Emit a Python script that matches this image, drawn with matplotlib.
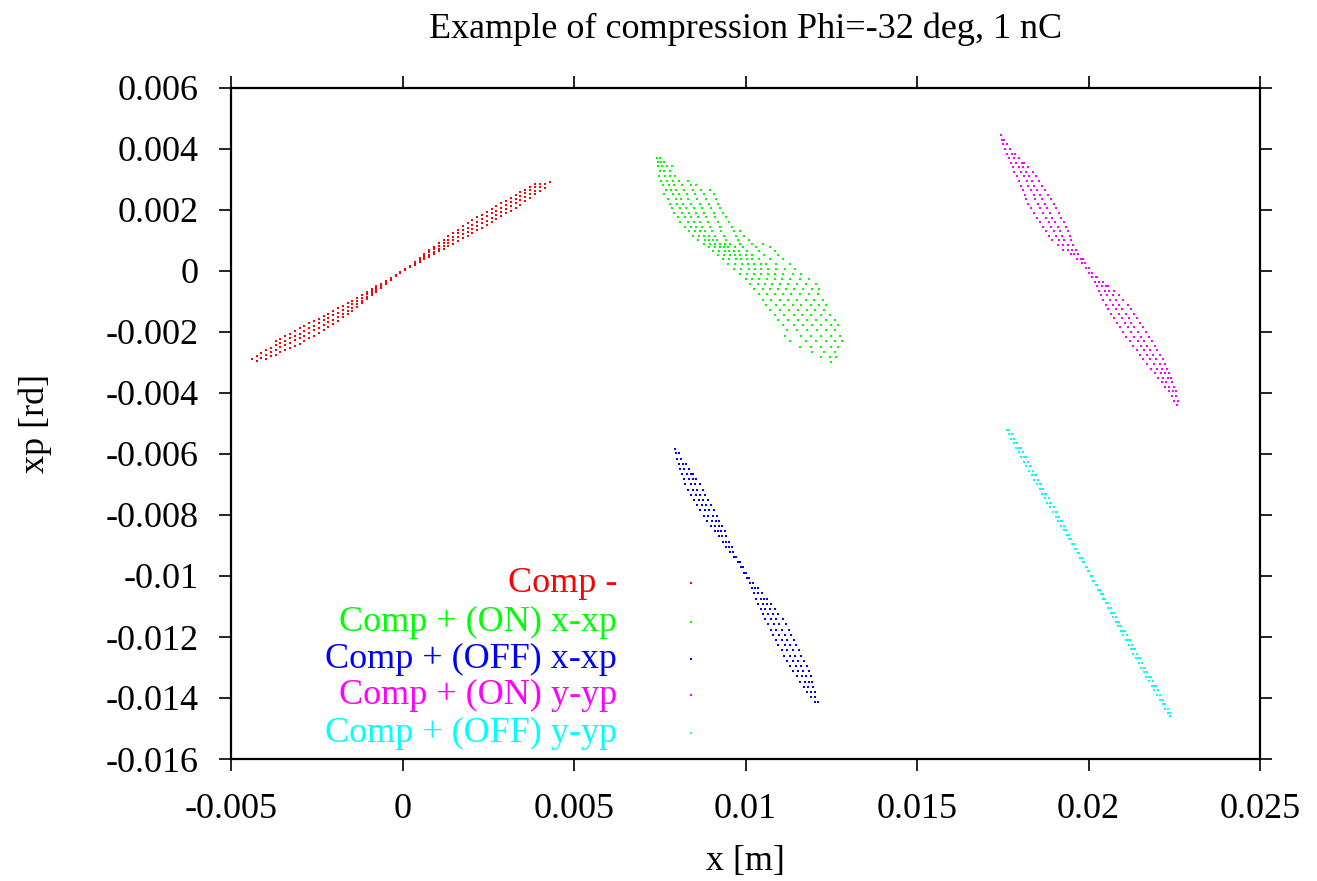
import numpy as np
import matplotlib
matplotlib.use("Agg")
import matplotlib.pyplot as plt

plt.rcParams['font.family'] = ['Liberation Serif', 'DejaVu Serif']

# particle clouds, x in mm, xp in mrad
# red: columns of (x, [xp values])
RED_COLS = [
    (-4.38, [-2.88]), (-4.25, [-2.95, -2.78]), (-4.12, [-2.84, -2.7]),
    (-3.98, [-2.9, -2.76, -2.6]), (-3.84, [-2.8, -2.65, -2.52]),
    (-3.7, [-2.74, -2.58, -2.44, -2.3]), (-3.56, [-2.66, -2.5, -2.36, -2.22]),
    (-3.42, [-2.6, -2.42, -2.28, -2.12]), (-3.28, [-2.52, -2.36, -2.2, -2.05]),
    (-3.14, [-2.45, -2.27, -2.12, -1.98]), (-3.0, [-2.38, -2.2, -2.05, -1.88]),
    (-2.86, [-2.3, -2.12, -1.97, -1.8]), (-2.72, [-2.2, -2.04, -1.88, -1.72]),
    (-2.58, [-2.12, -1.95, -1.8, -1.64]), (-2.44, [-2.02, -1.86, -1.72, -1.56]),
    (-2.3, [-1.93, -1.77, -1.62, -1.48]), (-2.16, [-1.84, -1.68, -1.54, -1.4]),
    (-2.02, [-1.74, -1.6, -1.45, -1.3]), (-1.88, [-1.63, -1.5, -1.37, -1.22]),
    (-1.74, [-1.52, -1.4, -1.28, -1.14]), (-1.6, [-1.42, -1.3, -1.18, -1.06]),
    (-1.46, [-1.3, -1.2, -1.08, -0.98]), (-1.32, [-1.18, -1.08, -0.98, -0.9]),
    (-1.18, [-1.06, -0.97, -0.88, -0.8]), (-1.04, [-0.93, -0.85, -0.77, -0.7]),
    (-0.9, [-0.8, -0.73, -0.66, -0.6]), (-0.76, [-0.68, -0.61, -0.55, -0.5]),
    (-0.62, [-0.55, -0.49, -0.44]), (-0.48, [-0.43, -0.38, -0.33]),
    (-0.34, [-0.3, -0.26, -0.22]), (-0.2, [-0.17, -0.14]),
    (-0.06, [-0.06, -0.03]), (0.08, [0.03, 0.06]), (0.22, [0.12, 0.16]),
    (0.36, [0.2, 0.25, 0.3]), (0.5, [0.3, 0.35, 0.41]),
    (0.64, [0.39, 0.45, 0.51, 0.57]), (0.78, [0.47, 0.54, 0.61, 0.68]),
    (0.92, [0.55, 0.63, 0.71, 0.8]), (1.06, [0.64, 0.73, 0.82, 0.92]),
    (1.2, [0.72, 0.82, 0.92, 1.03]), (1.34, [0.81, 0.92, 1.03, 1.14]),
    (1.48, [0.9, 1.02, 1.13, 1.25]), (1.62, [0.99, 1.11, 1.23, 1.36]),
    (1.76, [1.07, 1.2, 1.33, 1.47]), (1.9, [1.15, 1.29, 1.42, 1.57]),
    (2.04, [1.24, 1.38, 1.52, 1.67]), (2.18, [1.33, 1.47, 1.62, 1.76]),
    (2.32, [1.42, 1.56, 1.71, 1.85]), (2.46, [1.5, 1.65, 1.8, 1.95]),
    (2.6, [1.6, 1.74, 1.89, 2.04]), (2.74, [1.7, 1.84, 1.98, 2.13]),
    (2.88, [1.79, 1.94, 2.08, 2.22]), (3.02, [1.89, 2.03, 2.17, 2.31]),
    (3.16, [1.98, 2.12, 2.26, 2.4]), (3.3, [2.08, 2.22, 2.36, 2.5]),
    (3.44, [2.18, 2.32, 2.46, 2.58]), (3.58, [2.28, 2.42, 2.55, 2.66]),
    (3.72, [2.4, 2.52, 2.64, 2.75]), (3.86, [2.52, 2.63, 2.74, 2.84]),
    (4.0, [2.62, 2.74, 2.86]), (4.14, [2.72, 2.85]), (4.3, [2.92]),
]

# the others: rows of (xp, [x values])
GREEN_ROWS = [
    (3.72, [7.42, 7.51]), (3.58, [7.46, 7.55, 7.63]),
    (3.43, [7.44, 7.58, 7.72, 7.86]), (3.27, [7.5, 7.62, 7.81]),
    (3.12, [7.47, 7.66, 7.79, 7.95]), (2.96, [7.55, 7.71, 7.88, 8.06, 8.33]),
    (2.81, [7.6, 7.77, 7.93, 8.14, 8.41, 8.55]),
    (2.66, [7.68, 7.84, 7.97, 8.22, 8.47, 8.71, 8.96]),
    (2.52, [7.63, 7.9, 8.05, 8.28, 8.53, 8.8, 9.07]),
    (2.37, [7.74, 7.96, 8.12, 8.31, 8.6, 8.86, 9.15]),
    (2.21, [7.8, 8.01, 8.19, 8.42, 8.66, 8.93, 9.2]),
    (2.05, [7.87, 8.08, 8.26, 8.5, 8.72, 9.0, 9.27]),
    (1.9, [7.93, 8.15, 8.34, 8.55, 8.79, 9.08, 9.33]),
    (1.76, [8.02, 8.23, 8.4, 8.61, 8.85, 9.12, 9.44]),
    (1.6, [8.1, 8.31, 8.49, 8.68, 8.9, 9.19, 9.52]),
    (1.45, [8.24, 8.4, 8.57, 8.74, 8.97, 9.25, 9.6]),
    (1.3, [8.35, 8.52, 8.66, 8.83, 9.03, 9.3, 9.66, 9.85]),
    (1.15, [8.47, 8.63, 8.79, 8.93, 9.1, 9.38, 9.71, 9.95]),
    (1.02, [8.62, 8.81, 8.95, 9.05, 9.16, 9.44, 9.78, 10.1]),
    (0.9, [8.78, 8.96, 9.12, 9.25, 9.4, 9.55, 9.85, 10.2, 10.5]),
    (0.78, [8.93, 9.1, 9.27, 9.38, 9.5, 9.68, 9.94, 10.3, 10.7]),
    (0.65, [9.05, 9.24, 9.4, 9.52, 9.66, 9.82, 10.05, 10.4, 10.85]),
    (0.52, [9.2, 9.37, 9.55, 9.7, 9.85, 10.0, 10.2, 10.55, 10.95]),
    (0.38, [9.35, 9.52, 9.71, 9.88, 10.03, 10.2, 10.38, 10.7, 11.08]),
    (0.22, [9.48, 9.7, 9.9, 10.06, 10.25, 10.44, 10.6, 10.9, 11.3]),
    (0.06, [9.66, 9.88, 10.1, 10.27, 10.46, 10.66, 10.88, 11.15, 11.45]),
    (-0.1, [9.85, 10.04, 10.25, 10.45, 10.66, 10.86, 11.1, 11.38, 11.62]),
    (-0.27, [10.0, 10.2, 10.4, 10.62, 10.85, 11.05, 11.3, 11.58, 11.85]),
    (-0.44, [10.12, 10.35, 10.57, 10.78, 11.0, 11.24, 11.5, 11.77, 12.05]),
    (-0.6, [10.25, 10.5, 10.72, 10.95, 11.18, 11.42, 11.68, 11.95, 12.15]),
    (-0.77, [10.38, 10.62, 10.86, 11.1, 11.33, 11.58, 11.84, 12.1]),
    (-0.94, [10.5, 10.75, 11.0, 11.24, 11.5, 11.75, 12.0, 12.25]),
    (-1.1, [10.6, 10.88, 11.12, 11.38, 11.63, 11.9, 12.15, 12.35]),
    (-1.27, [10.72, 11.0, 11.26, 11.52, 11.78, 12.04, 12.3]),
    (-1.44, [10.85, 11.12, 11.4, 11.66, 11.92, 12.2, 12.45]),
    (-1.6, [10.95, 11.25, 11.52, 11.8, 12.06, 12.34, 12.6]),
    (-1.78, [11.1, 11.4, 11.67, 11.95, 12.2, 12.48, 12.7]),
    (-1.95, [11.2, 11.5, 11.8, 12.08, 12.36, 12.62]),
    (-2.12, [11.15, 11.62, 11.92, 12.2, 12.5, 12.75]),
    (-2.3, [11.3, 11.75, 12.05, 12.34, 12.62, 12.8]),
    (-2.48, [11.6, 11.9, 12.2, 12.5, 12.7]),
    (-2.65, [11.95, 12.3, 12.6]), (-2.82, [12.2, 12.45, 12.65]),
    (-3.0, [12.48]),
]

BLUE_ROWS = [
    (-5.82, [7.94]), (-5.98, [7.96, 8.06]), (-6.15, [8.0, 8.13]),
    (-6.32, [8.05, 8.18, 8.27]), (-6.49, [8.1, 8.22, 8.36]),
    (-6.66, [8.14, 8.28, 8.42, 8.48]), (-6.83, [8.2, 8.35, 8.47, 8.57]),
    (-7.0, [8.25, 8.4, 8.53, 8.66]), (-7.17, [8.32, 8.47, 8.6, 8.75]),
    (-7.34, [8.4, 8.55, 8.68, 8.83]), (-7.51, [8.49, 8.64, 8.77, 8.92]),
    (-7.68, [8.58, 8.72, 8.86, 9.0]), (-7.85, [8.68, 8.82, 8.95, 9.08]),
    (-8.02, [8.78, 8.92, 9.04, 9.16]), (-8.19, [8.88, 9.01, 9.13, 9.24]),
    (-8.36, [8.99, 9.1, 9.22, 9.32]), (-8.53, [9.1, 9.2, 9.3, 9.4]),
    (-8.7, [9.22, 9.31, 9.42]), (-8.87, [9.33, 9.42, 9.52]),
    (-9.04, [9.44, 9.53, 9.6]), (-9.21, [9.55, 9.64]),
    (-9.38, [9.66, 9.73]), (-9.55, [9.77, 9.83]), (-9.72, [9.87, 9.92]),
    (-9.89, [9.96, 10.0]), (-10.06, [10.04, 10.1]),
    (-10.23, [10.12, 10.21]), (-10.4, [10.18, 10.28, 10.35]),
    (-10.57, [10.25, 10.36, 10.48]), (-10.74, [10.31, 10.44, 10.55, 10.62]),
    (-10.91, [10.37, 10.5, 10.63, 10.74]), (-11.08, [10.44, 10.58, 10.71, 10.86]),
    (-11.25, [10.5, 10.66, 10.8, 10.96]), (-11.42, [10.58, 10.74, 10.9, 11.08]),
    (-11.59, [10.65, 10.82, 10.98, 11.18]), (-11.76, [10.73, 10.9, 11.06, 11.26]),
    (-11.93, [10.8, 10.98, 11.14, 11.34]), (-12.1, [10.88, 11.06, 11.22, 11.4]),
    (-12.27, [10.96, 11.14, 11.3, 11.48]), (-12.44, [11.05, 11.22, 11.38, 11.55]),
    (-12.61, [11.13, 11.3, 11.45, 11.62]), (-12.78, [11.22, 11.38, 11.53, 11.7]),
    (-12.95, [11.3, 11.46, 11.61, 11.78]), (-13.12, [11.38, 11.54, 11.68, 11.84]),
    (-13.29, [11.5, 11.64, 11.76, 11.9]), (-13.46, [11.6, 11.73, 11.85, 11.95]),
    (-13.63, [11.7, 11.82, 11.96]), (-13.8, [11.8, 11.92, 12.03]),
    (-13.97, [11.9, 12.04]), (-14.14, [12.02, 12.1]),
]

MAGENTA_ROWS = [
    (4.45, [17.45]), (4.3, [17.47, 17.55]), (4.15, [17.5, 17.62]),
    (4.0, [17.56, 17.71]), (3.85, [17.62, 17.76, 17.86]),
    (3.7, [17.68, 17.84, 17.98]), (3.55, [17.74, 17.9, 18.05, 18.12]),
    (3.4, [17.79, 17.96, 18.1, 18.25]), (3.25, [17.84, 18.03, 18.17, 18.37]),
    (3.1, [17.92, 18.12, 18.27, 18.46]), (2.95, [17.97, 18.2, 18.35, 18.55]),
    (2.8, [18.04, 18.25, 18.42, 18.65]), (2.65, [18.08, 18.33, 18.5, 18.74]),
    (2.5, [18.14, 18.4, 18.58, 18.82]), (2.35, [18.19, 18.45, 18.64, 18.92]),
    (2.2, [18.25, 18.52, 18.72, 18.98]), (2.05, [18.33, 18.6, 18.8, 19.06]),
    (1.9, [18.42, 18.68, 18.87, 19.15]), (1.75, [18.5, 18.76, 18.95, 19.2]),
    (1.6, [18.58, 18.84, 19.02, 19.28]), (1.45, [18.67, 18.92, 19.1, 19.35]),
    (1.3, [18.75, 18.99, 19.18, 19.4]), (1.15, [18.84, 19.06, 19.24, 19.46]),
    (1.0, [18.95, 19.15, 19.3, 19.5]), (0.85, [19.1, 19.27, 19.4, 19.56]),
    (0.7, [19.27, 19.4, 19.52, 19.64]), (0.55, [19.48, 19.58, 19.7]),
    (0.4, [19.67, 19.78, 19.84]), (0.25, [19.8, 19.9]), (0.1, [19.93, 20.01]),
    (-0.05, [20.02, 20.11]), (-0.2, [20.1, 20.22, 20.26]),
    (-0.35, [20.18, 20.3, 20.42]), (-0.5, [20.24, 20.38, 20.5, 20.57]),
    (-0.65, [20.3, 20.47, 20.6, 20.74]), (-0.8, [20.36, 20.55, 20.7, 20.9]),
    (-0.95, [20.43, 20.64, 20.8, 21.02]), (-1.1, [20.5, 20.72, 20.9, 21.14]),
    (-1.25, [20.57, 20.8, 20.98, 21.24]), (-1.4, [20.66, 20.9, 21.08, 21.33]),
    (-1.55, [20.75, 20.98, 21.17, 21.42]), (-1.7, [20.83, 21.07, 21.25, 21.5]),
    (-1.85, [20.92, 21.15, 21.33, 21.6]), (-2.0, [21.01, 21.24, 21.44, 21.69]),
    (-2.15, [21.1, 21.34, 21.53, 21.77]), (-2.3, [21.2, 21.43, 21.62, 21.85]),
    (-2.45, [21.3, 21.52, 21.7, 21.93]), (-2.6, [21.4, 21.62, 21.8, 22.0]),
    (-2.75, [21.5, 21.72, 21.88, 22.08]), (-2.9, [21.6, 21.8, 21.98, 22.17]),
    (-3.05, [21.7, 21.9, 22.07, 22.24]), (-3.2, [21.82, 22.0, 22.15, 22.3]),
    (-3.35, [21.93, 22.1, 22.22, 22.35]), (-3.5, [22.02, 22.18, 22.32, 22.4]),
    (-3.65, [22.14, 22.27, 22.44]), (-3.8, [22.23, 22.36, 22.5]),
    (-3.95, [22.34, 22.45, 22.55]), (-4.1, [22.42, 22.56]),
    (-4.25, [22.5, 22.6]), (-4.38, [22.58]),
]

CYAN_ROWS = [
    (-5.2, [17.63, 17.68]), (-5.35, [17.69, 17.76]), (-5.5, [17.75, 17.84]),
    (-5.65, [17.83, 17.92]), (-5.8, [17.88, 17.97, 18.02]),
    (-5.95, [17.97, 18.08]), (-6.1, [18.04, 18.13, 18.17]),
    (-6.25, [18.12, 18.23]), (-6.4, [18.19, 18.28, 18.32]),
    (-6.55, [18.27, 18.38]), (-6.7, [18.34, 18.43, 18.47]),
    (-6.85, [18.42, 18.53]), (-7.0, [18.5, 18.58, 18.62]),
    (-7.15, [18.58, 18.68]), (-7.3, [18.65, 18.73, 18.77]),
    (-7.45, [18.73, 18.84]), (-7.6, [18.8, 18.88, 18.92]),
    (-7.75, [18.89, 18.98]), (-7.9, [18.97, 19.04, 19.07]),
    (-8.05, [19.04, 19.13]), (-8.2, [19.12, 19.19, 19.22]),
    (-8.35, [19.2, 19.28]), (-8.5, [19.28, 19.35]), (-8.65, [19.36, 19.43]),
    (-8.8, [19.44, 19.5]), (-8.95, [19.52, 19.58]), (-9.1, [19.6, 19.65]),
    (-9.25, [19.68, 19.72]), (-9.4, [19.76, 19.8]), (-9.55, [19.83, 19.87]),
    (-9.7, [19.92, 19.95]), (-9.85, [19.99, 20.02]), (-10.0, [20.06, 20.1]),
    (-10.15, [20.13, 20.17]), (-10.3, [20.21, 20.25]),
    (-10.45, [20.28, 20.33]), (-10.6, [20.35, 20.41]),
    (-10.75, [20.43, 20.49]), (-10.9, [20.5, 20.57]),
    (-11.05, [20.57, 20.65]), (-11.2, [20.65, 20.7, 20.74]),
    (-11.35, [20.72, 20.8]), (-11.5, [20.8, 20.86, 20.9]),
    (-11.65, [20.86, 20.95]), (-11.8, [20.94, 21.0, 21.05]),
    (-11.95, [21.02, 21.12]), (-12.1, [21.09, 21.16, 21.2]),
    (-12.25, [21.17, 21.27]), (-12.4, [21.24, 21.31, 21.35]),
    (-12.55, [21.31, 21.42]), (-12.7, [21.39, 21.47, 21.51]),
    (-12.85, [21.46, 21.57]), (-13.0, [21.54, 21.62, 21.66]),
    (-13.15, [21.61, 21.72]), (-13.3, [21.69, 21.77, 21.81]),
    (-13.45, [21.77, 21.87]), (-13.6, [21.84, 21.92, 21.96]),
    (-13.75, [21.92, 22.02]), (-13.9, [22.0, 22.08]),
    (-14.05, [22.08, 22.17]), (-14.2, [22.16, 22.24]),
    (-14.35, [22.24, 22.31]), (-14.5, [22.32, 22.38]), (-14.58, [22.38]),
]

LABELS = ['Comp -', 'Comp + (ON) x-xp', 'Comp + (OFF) x-xp',
          'Comp + (ON) y-yp', 'Comp + (OFF) y-yp']
COLORS = ['#ff0000', '#00ff00', '#0000ff', '#ff00ff', '#00ffff']

XTICKS = [-0.005, 0.0, 0.005, 0.01, 0.015, 0.02, 0.025]
XTICK_LABELS = ['-0.005', '0', '0.005', '0.01', '0.015', '0.02', '0.025']
YTICKS = [-0.016, -0.014, -0.012, -0.01, -0.008, -0.006, -0.004, -0.002,
          0.0, 0.002, 0.004, 0.006]
YTICK_LABELS = ['-0.016', '-0.014', '-0.012', '-0.01', '-0.008', '-0.006',
                '-0.004', '-0.002', '0', '0.002', '0.004', '0.006']


def fromCols(cols):
    x = [c for c, vals in cols for v in vals]
    y = [v for c, vals in cols for v in vals]
    return np.array(x) * 1e-3, np.array(y) * 1e-3


def fromRows(rows):
    x = [v for r, vals in rows for v in vals]
    y = [r for r, vals in rows for v in vals]
    return np.array(x) * 1e-3, np.array(y) * 1e-3


clouds = [fromCols(RED_COLS), fromRows(GREEN_ROWS), fromRows(BLUE_ROWS),
          fromRows(MAGENTA_ROWS), fromRows(CYAN_ROWS)]

W, H = 1317, 881
FS = 26
fig = plt.figure(figsize=(W / 100, H / 100), dpi=100)
ax = fig.add_axes([231 / W, 1 - 759 / H, (1260 - 231) / W, (759 - 88) / H])

for (x, y), c in zip(clouds, COLORS):
    ax.plot(x, y, 's', ms=2.0, mew=0, color=c)

ax.set_xlim(-0.005, 0.025)
ax.set_ylim(-0.016, 0.006)
ax.set_xticks(XTICKS)
ax.set_xticklabels(XTICK_LABELS)
ax.set_yticks(YTICKS)
ax.set_yticklabels(YTICK_LABELS)
ax.tick_params(direction='out', length=8.5, width=1.2, labelsize=FS,
               top=True, right=True)
ax.tick_params(axis='y', pad=15)
ax.tick_params(axis='x', pad=16)
for s in ax.spines.values():
    s.set_linewidth(1.6)

ax.set_xlabel('x [m]', fontsize=FS, labelpad=14)
ax.set_ylabel('xp [rd]', fontsize=FS, labelpad=38)
ax.set_title('Example of compression Phi=-32 deg, 1 nC', fontsize=FS, pad=36)

# gnuplot style key: right aligned text, sample point to the right
key_y = [583, 622, 659, 695, 733]
for lab, c, yy in zip(LABELS, COLORS, key_y):
    fig.text(617 / W, 1 - yy / H, lab, color=c, fontsize=FS,
             ha='right', va='center')
    fig.lines.append(plt.Line2D([691 / W], [1 - yy / H], marker='s', ms=1.7,
                                mew=0, color=c, transform=fig.transFigure))

fig.savefig('out.png', dpi=100)
